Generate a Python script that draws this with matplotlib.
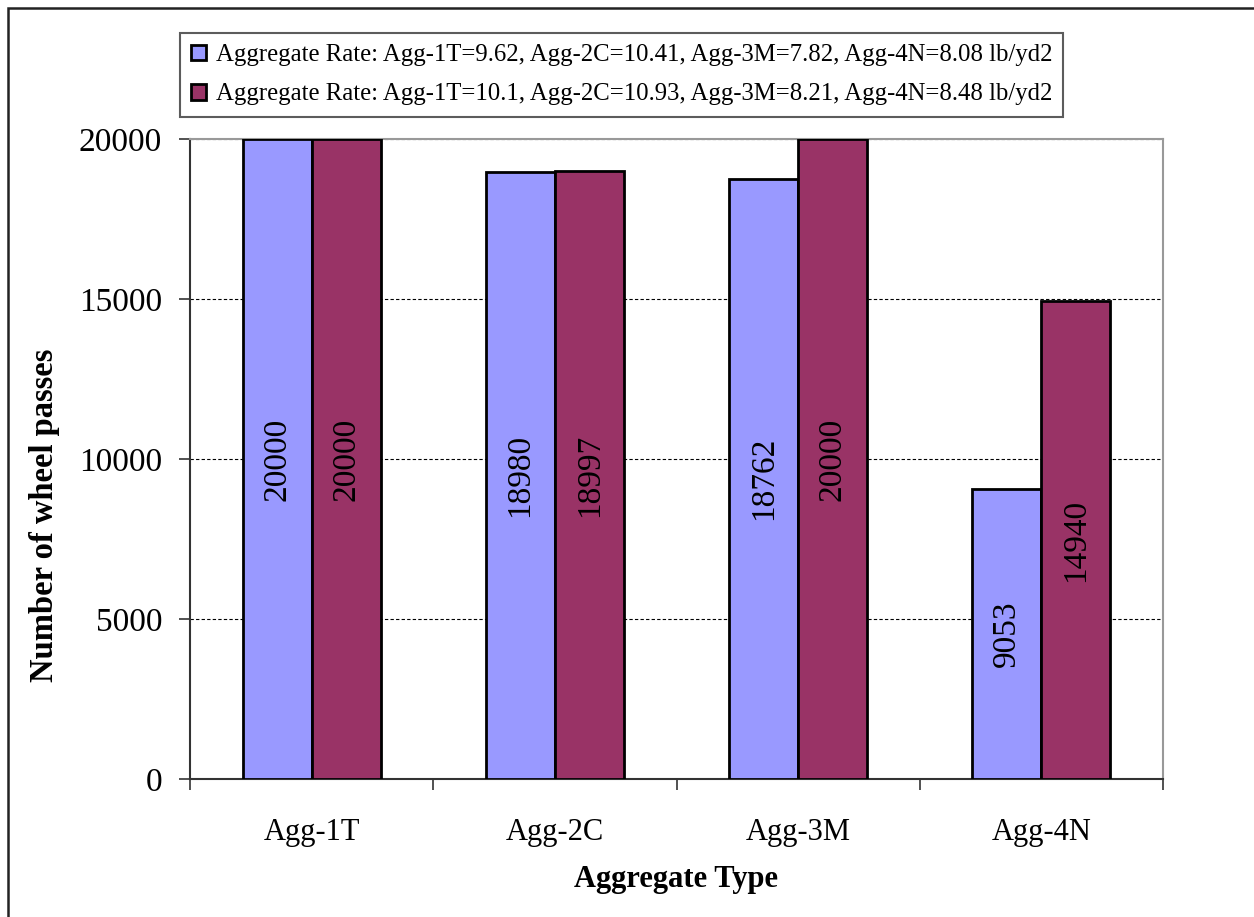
import numpy as np
import matplotlib.pyplot as plt
from matplotlib.patches import Rectangle

plt.rcParams['font.family'] = ['Liberation Serif', 'DejaVu Serif']

agg_types = ['Agg-1T', 'Agg-2C', 'Agg-3M', 'Agg-4N']
passes_low = [20000, 18980, 18762, 9053]
passes_high = [20000, 18997, 20000, 14940]
label_low = 'Aggregate Rate: Agg-1T=9.62, Agg-2C=10.41, Agg-3M=7.82, Agg-4N=8.08 lb/yd2'
label_high = 'Aggregate Rate: Agg-1T=10.1, Agg-2C=10.93, Agg-3M=8.21, Agg-4N=8.48 lb/yd2'
y_ticks = [0, 5000, 10000, 15000, 20000]

fig = plt.figure(figsize=(12.54, 9.17), dpi=100)
ax = fig.add_axes([190/1254, 1 - 779/917, (1163 - 190)/1254, (779 - 139)/917])

# outer frame, only left and top edges fall inside the canvas
fig.patches.append(Rectangle((8/1254, -0.1), 1.2, 1 - 8/917 + 0.1, transform=fig.transFigure,
                             fill=False, edgecolor='#222222', linewidth=1.8))

x = np.arange(len(agg_types))
w = 0.284
b1 = ax.bar(x - w/2, passes_low, w, color='#9999ff', edgecolor='black', linewidth=2.0,
            label=label_low, zorder=3)
b2 = ax.bar(x + w/2, passes_high, w, color='#993366', edgecolor='black', linewidth=2.0,
            label=label_high, zorder=3)

# values written vertically in the middle of each bar
for bars, vals in ((b1, passes_low), (b2, passes_high)):
    for r, v in zip(bars, vals):
        ax.text(r.get_x() + r.get_width()/2, v/2, str(v), rotation=90,
                ha='center', va='center', fontsize=24, zorder=4)

ax.set_xlim(-0.5, len(agg_types) - 0.5)
ax.set_ylim(0, 20000)
ax.set_yticks(y_ticks)
ax.set_xticks(x)
ax.set_xticklabels(agg_types)
ax.set_xticks(np.arange(-0.5, len(agg_types)), minor=True)
ax.tick_params(axis='x', which='major', length=0, pad=28, labelsize=22)
ax.tick_params(axis='x', which='minor', length=8, width=1.2, color='#333333')
ax.tick_params(axis='y', length=8, width=1.2, color='#333333', labelsize=24, pad=12)
ax.yaxis.grid(True, linestyle=(0, (3, 2)), color='black', linewidth=0.8, zorder=0)

for s in ['top', 'right']:
    ax.spines[s].set_color('#999999')
    ax.spines[s].set_linewidth(1.5)
for s in ['left', 'bottom']:
    ax.spines[s].set_color('#333333')
    ax.spines[s].set_linewidth(1.5)

fig.text(45/1254, 1 - 515/917, 'Number of wheel passes', rotation=90, ha='center',
         va='center', fontsize=23.5, fontweight='bold')
ax.set_xlabel('Aggregate Type', fontsize=22, fontweight='bold', labelpad=13)

leg = fig.legend(loc='upper left', bbox_to_anchor=(180/1254, 1 - 33/917), borderaxespad=0,
                 fontsize=17.8, frameon=True, fancybox=False, edgecolor='#333333',
                 handlelength=0.6, handleheight=0.6, handletextpad=0.4,
                 borderpad=0.45, labelspacing=0.7)
leg.get_frame().set_linewidth(1.5)

fig.savefig('out.png', dpi=100)
